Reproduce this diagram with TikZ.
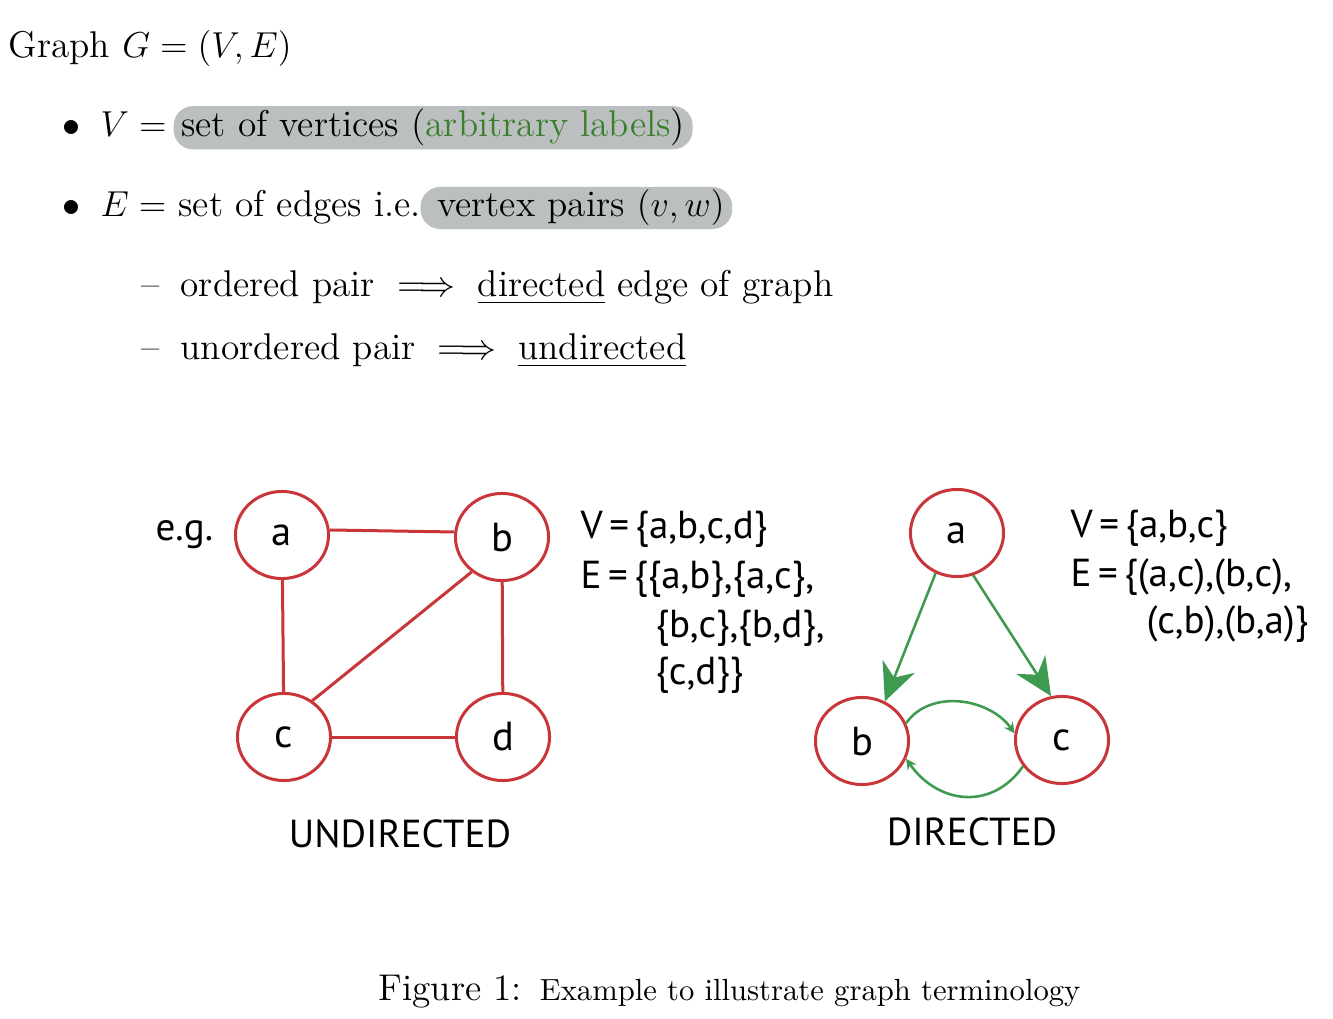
\documentclass[tikz,border=0pt,12pt]{standalone}
\usepackage{amsmath,amssymb}
\usepackage{fontspec}
\usepackage{xcolor}
\usetikzlibrary{shapes.geometric, arrows.meta, positioning}
\newfontfamily\figfont{PT Sans}
\definecolor{vtxRed}{HTML}{C8363A}
\definecolor{arcGreen}{HTML}{3E9A50}
\definecolor{lblGreen}{HTML}{3A7F2C}
\definecolor{hlGray}{HTML}{BCBFBF}

\begin{document}
\begin{tikzpicture}[x=0.0117cm, y=-0.0117cm,
    txt/.style={anchor=base west, inner sep=0pt, font=\fontsize{12.4}{15}\selectfont},
    hl/.style={anchor=base west, fill=hlGray, rounded corners=6.5pt, inner xsep=2.5pt, inner ysep=1pt,
      font=\fontsize{12.4}{15}\selectfont},
    vtx/.style={ellipse, draw=vtxRed, line width=1pt, minimum width=31pt, minimum height=29pt,
      inner sep=0pt, font=\figfont\fontsize{13.5}{16}\selectfont},
    setline/.style={anchor=base west, inner sep=0pt, font=\figfont\fontsize{13}{16}\selectfont},
    uedge/.style={draw=vtxRed, line width=1pt},
    darc/.style={draw=arcGreen, line width=0.85pt, -{Stealth[length=12.5pt, width=11.5pt, inset=4pt]}},
    larc/.style={draw=arcGreen, line width=0.85pt, -{Stealth[length=3.5pt, width=3.5pt]}}
  ]
  \useasboundingbox (0,0) rectangle (1333,1019);

  % definition text
  \node[txt] (title) at (8,58) {Graph $G=(V,E)$};
  \node[txt] (bul1) at (62,137) {$\bullet$};
  \node[txt] (vlhs) at (100,137) {$V=$};
  \node[hl] (vset) at (173,137) {set of vertices (\textcolor{lblGreen}{arbitrary labels})};
  \node[txt] (bul2) at (62,217) {$\bullet$};
  \node[txt] (elhs) at (100,217) {$E=$ set of edges i.e.};
  \node[hl] (epair) at (420,217) {\hspace{3pt}vertex pairs $(v,w)$};
  \node[txt] (dash1) at (141,297) {\textendash};
  \node[txt] (ord) at (180,297) {ordered pair $\implies$ \underline{directed} edge of graph};
  \node[txt] (dash2) at (141,360) {\textendash};
  \node[txt] (unord) at (180,360) {unordered pair $\implies$ \underline{undirected}};

  % undirected graph
  \node[setline] (eg) at (155,540) {e.g.};
  \node[vtx] (ua) at (282,535) {a};
  \node[vtx] (ub) at (502,537) {b};
  \node[vtx] (uc) at (284,737) {c};
  \node[vtx] (ud) at (503,737) {d};
  \draw[uedge] (ua.6) -- (ub.174);
  \draw[uedge] (ua) -- (uc);
  \draw[uedge] (ub) -- (ud);
  \draw[uedge] (uc) -- (ud);
  \draw[uedge] (ub.229) -- (uc.52);
  \node[setline] (uv) at (580,538) {V\,=\,\{a,b,c,d\}};
  \node[setline] (ue1) at (580,588) {E\,=\,\{\{a,b\},\{a,c\},};
  \node[setline] (ue2) at (655,637) {\{b,c\},\{b,d\},};
  \node[setline] (ue3) at (655,684) {\{c,d\}\}};
  \node[setline, anchor=base] (utitle) at (400,847) {UNDIRECTED};

  % directed graph
  \node[vtx] (da) at (957,533) {a};
  \node[vtx] (db) at (862,741) {b};
  \node[vtx] (dc) at (1062,740) {c};
  \draw[darc] (da.242) -- (db.60);
  \draw[darc] (da.291) -- (dc.104);
  \draw[larc] (db.22) to[out=55, in=125] (dc.172);
  \draw[larc] (dc.214) to[out=235, in=305, looseness=1.2] (db.338);
  \node[setline] (dv) at (1070,537) {V\,=\,\{a,b,c\}};
  \node[setline] (de1) at (1070,586) {E\,=\,\{(a,c),(b,c),};
  \node[setline] (de2) at (1146,633) {(c,b),(b,a)\}};
  \node[setline, anchor=base] (dtitle) at (972,845) {DIRECTED};

  \node[txt] (cap) at (378,1000) {Figure 1:\hspace{6pt}{\fontsize{10.2}{12}\selectfont Example to illustrate graph terminology}};
\end{tikzpicture}
\end{document}
